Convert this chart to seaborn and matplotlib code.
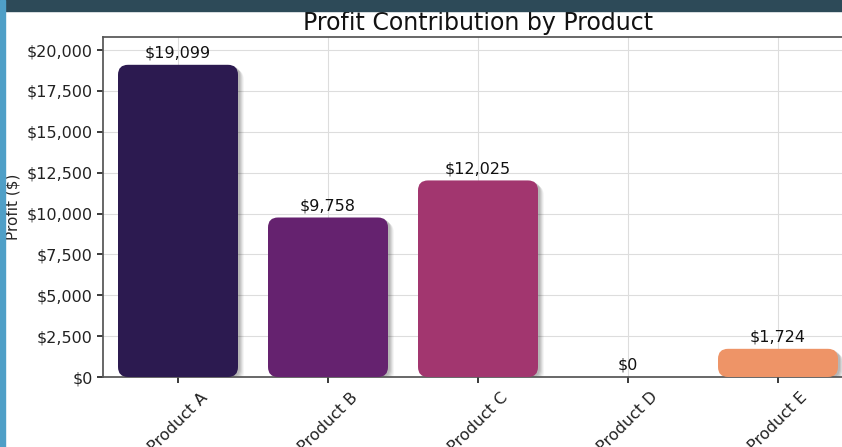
import matplotlib
matplotlib.use("Agg")
import matplotlib.pyplot as plt
import matplotlib.transforms as mtransforms
from matplotlib.patches import FancyBboxPatch, Rectangle
from matplotlib.ticker import FuncFormatter, MultipleLocator
import seaborn as sns
import pandas as pd

products = ["Product A", "Product B", "Product C", "Product D", "Product E"]
profits = [19099, 9758, 12025, 0, 1724]
bar_colors = ["#2c1a50", "#65226f", "#a2366f", "#d3436e", "#ee9467"]

df = pd.DataFrame({"Product": products, "Profit": profits})

sns.set_theme(style="whitegrid")
plt.rcParams["font.family"] = ["DejaVu Sans"]
plt.rcParams.update({
    "axes.edgecolor": "#555555",
    "grid.color": "#dddddd",
    "xtick.bottom": True,
    "ytick.left": True,
    "xtick.major.size": 4,
    "ytick.major.size": 4,
    "xtick.color": "#222222",
    "ytick.color": "#222222",
})

fig = plt.figure(figsize=(8.42, 4.47), dpi=100)
# screenshot frame decorations
fig.patches.append(Rectangle((0, 0.976), 1, 0.03, transform=fig.transFigure, color="#2d4a58", zorder=0))
fig.patches.append(Rectangle((0, 0), 0.006, 1, transform=fig.transFigure, color="#4f9fc7", zorder=0))

ax = fig.add_axes([103 / 842, 70 / 447, 750 / 842, 340 / 447])
sns.barplot(data=df, x="Product", y="Profit", hue="Product", palette=bar_colors,
            legend=False, ax=ax, width=0.8, saturation=1)

ax.set_ylim(0, 20800)
ax.set_xlim(-0.5, 4.5)
ax.set_axisbelow(True)

# replace bars by rounded bars with soft shadow
px_x = 1 / 150.0
px_y = 20800 / 340.0
aspect = px_y / px_x
rad = 10 * px_x
patches = list(ax.patches)
for p in patches:
    x, y = p.get_x(), p.get_y()
    w, h = p.get_width(), p.get_height()
    col = p.get_facecolor()
    p.remove()
    if h <= 0:
        continue
    for dx, dy, a in [(6, -5, 0.04), (5, -4, 0.05), (4, -3, 0.07), (3, -2, 0.08), (2, -1, 0.08)]:
        off = mtransforms.offset_copy(ax.transData, fig=fig, x=dx, y=dy, units="dots")
        sh = FancyBboxPatch((x, y), w, h, boxstyle=f"round,pad=0,rounding_size={rad}",
                            mutation_aspect=aspect, facecolor="black", edgecolor="none",
                            alpha=a, transform=off, zorder=2)
        ax.add_patch(sh)
    bar = FancyBboxPatch((x, y), w, h, boxstyle=f"round,pad=0,rounding_size={rad}",
                         mutation_aspect=aspect, facecolor=col, edgecolor="none", zorder=3)
    ax.add_patch(bar)

for i, v in enumerate(profits):
    ax.annotate(f"${v:,.0f}", (i, v), xytext=(0, 3), textcoords="offset points",
                ha="center", va="bottom", fontsize=11.5, color="#111111", zorder=4)

ax.yaxis.set_major_locator(MultipleLocator(2500))
ax.yaxis.set_major_formatter(FuncFormatter(lambda v, _: f"${v:,.0f}"))
ax.tick_params(axis="y", labelsize=11.5)
ax.tick_params(axis="x", labelsize=11.5, rotation=45, pad=5)
ax.set_xlabel("")
ax.set_ylabel("Profit ($)", fontsize=11, labelpad=4)
ax.set_title("Profit Contribution by Product", fontsize=17, pad=5, color="#111111")
for s in ax.spines.values():
    s.set_visible(True)
    s.set_color("#555555")
ax.grid(True, axis="both", color="#dddddd", linewidth=0.8)

fig.savefig("out.png", dpi=100)
